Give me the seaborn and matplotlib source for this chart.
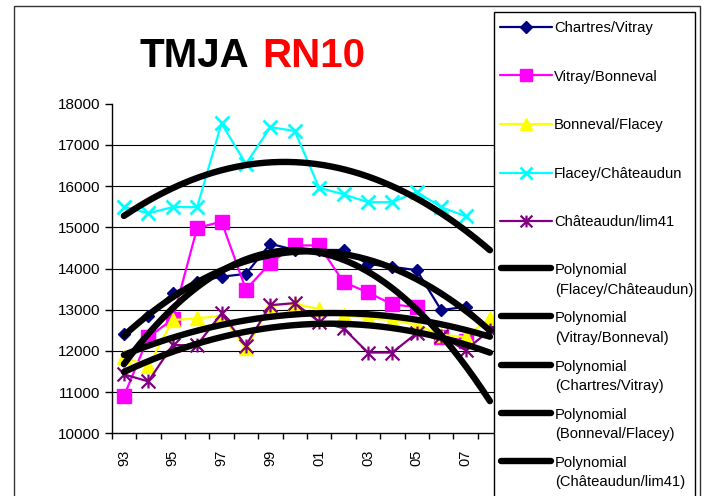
import numpy as np
import matplotlib
matplotlib.use("Agg")
import matplotlib.pyplot as plt
import seaborn as sns
from matplotlib.path import Path
from matplotlib.patches import Rectangle

# ---- data -------------------------------------------------------------
years = ["93", "94", "95", "96", "97", "98", "99", "00",
         "01", "02", "03", "04", "05", "06", "07", "08"]
tick_labels = ["93", "95", "97", "99", "01", "03", "05", "07"]

series_names = ["Chartres/Vitray", "Vitray/Bonneval", "Bonneval/Flacey",
                "Flacey/Châteaudun", "Châteaudun/lim41"]

chartres_vitray = [12400, 12850, 13400, 13680, 13800, 13870, 14600, 14450,
                   14450, 14450, 14110, 14040, 13960, 12990, 13070, 12550]
vitray_bonneval = [10900, 12330, 12770, 14980, 15140, 13490, 14130, 14560,
                   14560, 13670, 13420, 13130, 13060, 12340, 12250]
bonneval_flacey = [11850, 11630, 12750, 12790, 12850, 12060, 13090, 13150,
                   13010, 12870, 12790, 12750, 12630, 12390, 12340, 12790]
flacey_chateaudun = [15500, 15340, 15490, 15490, 17520, 16540, 17430, 17340,
                     15960, 15800, 15610, 15610, 15860, 15490, 15270]
chateaudun_lim41 = [11430, 11260, 12140, 12140, 12910, 12130, 13110, 13160,
                    12710, 12550, 11960, 11960, 12430, 12350, 12020, 12500]

series_values = [chartres_vitray, vitray_bonneval, bonneval_flacey,
                 flacey_chateaudun, chateaudun_lim41]

# trendline legend order
trend_order = [3, 1, 0, 2, 4]

# ---- style ------------------------------------------------------------
sns.set_theme(style="white")
plt.rcParams["font.family"] = ["Liberation Sans", "DejaVu Sans"]

asterisk = Path([(-1, -1), (1, 1), (-1, 1), (1, -1), (0, -1), (0, 1)],
                [Path.MOVETO, Path.LINETO] * 3)

# colour, marker, plot size, legend size, edge width, filled
styles = [
    ("#000080", "D", 6.5, 6.0, 1.0, True),
    ("#FF00FF", "s", 10.0, 8.5, 1.0, True),
    ("#FFFF00", "^", 10.0, 8.5, 1.0, True),
    ("#00FFFF", "x", 9.5, 8.5, 2.0, False),
    ("#800080", asterisk, 10.0, 8.5, 1.6, False),
]

W, H = 704, 496
fig = plt.figure(figsize=(W / 100, H / 100), dpi=100)
fig.patch.set_facecolor("white")

ax = fig.add_axes([111.7 / W, 1 - 433.3 / H, 390.4 / W, 329.6 / H])
ax.set_facecolor("white")

# horizontal gridlines
ax.hlines(np.arange(11000, 18000, 1000), -0.5, 15.5, color="black",
          lw=0.8, zorder=1)

# data series
for i, (vals, st) in enumerate(zip(series_values, styles)):
    color, marker, ms, _, mew, filled = st
    x = np.arange(len(vals))
    sns.lineplot(x=x, y=vals, ax=ax, color=color, linewidth=1.6,
                 marker=marker, markersize=ms, markeredgecolor=color,
                 markerfacecolor=color if filled else "none",
                 markeredgewidth=mew, errorbar=None, sort=False,
                 legend=False, zorder=3 + i)

# second-order polynomial trendlines over the full year range
grid = np.linspace(0, len(years) - 1, 300)
for vals in series_values:
    x = np.arange(len(vals))
    coef = np.polyfit(x, vals, 2)
    ax.plot(grid, np.polyval(coef, grid), color="black", lw=4.6,
            solid_capstyle="round", zorder=10)

ax.set_xlim(-0.5, 15.5)
ax.set_ylim(10000, 18000)
ax.set_xlabel("")
ax.set_ylabel("")

yt = np.arange(10000, 18001, 1000)
ax.set_yticks(yt)
ax.set_yticklabels([str(v) for v in yt], fontsize=11, color="black")
ax.tick_params(axis="y", direction="out", length=5, width=1, pad=3.5,
               left=True, color="black")

ax.set_xticks([years.index(t) for t in tick_labels])
ax.set_xticklabels(tick_labels, rotation=90, fontsize=10.5, color="black")
ax.set_xticks(np.arange(-0.5, len(years), 1), minor=True)
ax.tick_params(axis="x", which="major", length=0, pad=12)
ax.tick_params(axis="x", which="minor", direction="out", length=4.5,
               width=1, bottom=True, color="black")

for side in ("top", "right"):
    ax.spines[side].set_visible(False)
for side in ("left", "bottom"):
    ax.spines[side].set_color("black")
    ax.spines[side].set_linewidth(1)

# ---- title ------------------------------------------------------------
fig.text(140 / W, 1 - 66.7 / H, "TMJA", fontsize=29, weight="bold",
         color="black", ha="left", va="baseline")
fig.text(262 / W, 1 - 66.7 / H, "RN10", fontsize=29, weight="bold",
         color="#FF0000", ha="left", va="baseline")

# ---- frame and legend (pixel coordinates) ----------------------------
lax = fig.add_axes([0, 0, 1, 1], zorder=20)
lax.set_xlim(0, W)
lax.set_ylim(H, 0)
lax.axis("off")
lax.patch.set_alpha(0)

lax.add_patch(Rectangle((13.5, 6), 686.5, 520, fill=False,
                        edgecolor="#333333", lw=1))
lax.add_patch(Rectangle((494, 12), 201, 520, facecolor="white",
                        edgecolor="black", lw=1))

for i, (name, st) in enumerate(zip(series_names, styles)):
    color, marker, _, lms, mew, filled = st
    y = 26.7 + 48.6 * i
    lax.plot([500, 552], [y, y], color=color, lw=1.6)
    lax.plot([526], [y], marker=marker, ms=lms, mec=color,
             mfc=color if filled else "none", mew=mew, ls="none")
    lax.text(554, y + 5.4, name, fontsize=10.6, color="black",
             ha="left", va="baseline")

for j, k in enumerate(trend_order):
    y = 268.3 + 48.1 * j
    lax.plot([501, 551], [y, y], color="black", lw=4.6,
             solid_capstyle="round")
    lax.text(555, y + 6.0, "Polynomial", fontsize=10.6, color="black",
             ha="left", va="baseline")
    lax.text(555, y + 25.7, f"({series_names[k]})", fontsize=10.6,
             color="black", ha="left", va="baseline")

fig.savefig("out.png", dpi=100, facecolor="white")
